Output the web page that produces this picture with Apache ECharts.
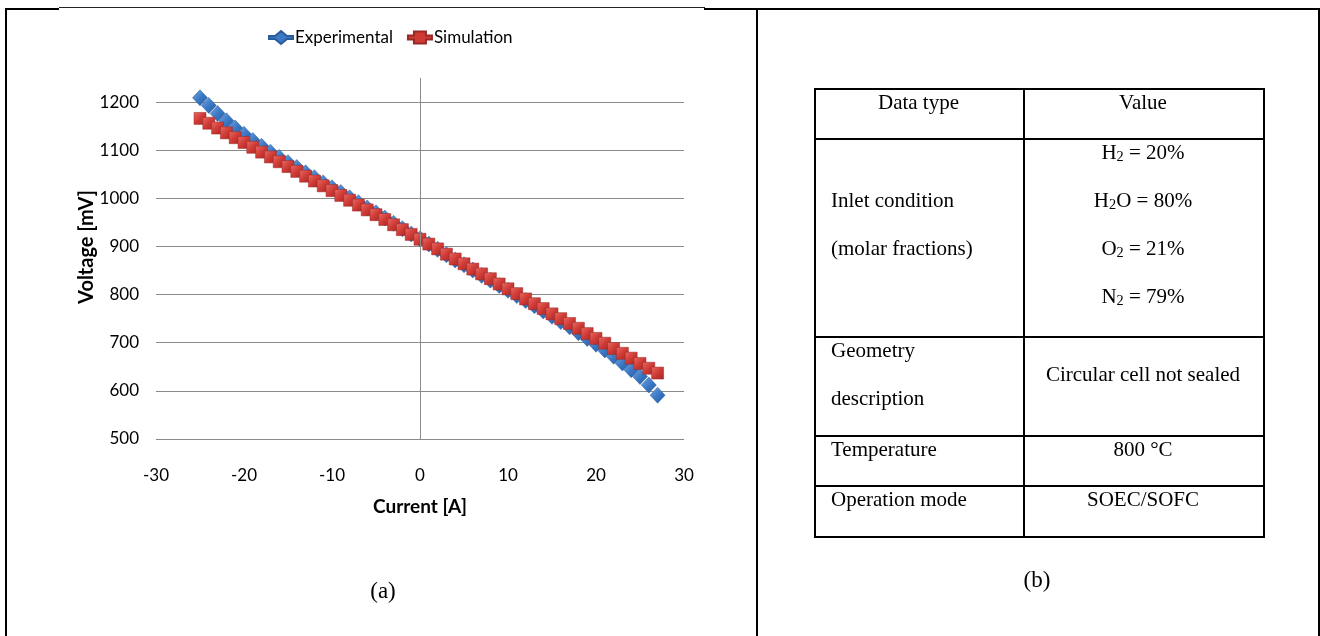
<!DOCTYPE html>
<html>
<head>
<meta charset="utf-8">
<script src="https://cdn.jsdelivr.net/npm/echarts@6/dist/echarts.min.js"></script>
<style>
  html, body { margin:0; padding:0; background:#fff; }
  #wrap { position:relative; width:1320px; height:636px; overflow:hidden; }
  #chart { position:absolute; left:0; top:0; width:1320px; height:636px; }
  .ln { position:absolute; background:#000; }
  .t { position:absolute; font-family:"Liberation Serif","Times New Roman",serif; font-size:21px; color:#000; white-space:nowrap; line-height:24px; }
  .t sub { font-size:0.68em; vertical-align:-0.12em; line-height:0; }
  .c { transform:translateX(-50%); }
</style>
</head>
<body>
<div id="wrap">
  <div id="chart"></div>
  <div id="overlay"></div>
</div>
<script>
// ---- data ----
const currents = [-25,-24,-23,-22,-21,-20,-19,-18,-17,-16,-15,-14,-13,-12,-11,-10,-9,-8,-7,-6,-5,-4,-3,-2,-1,0,1,2,3,4,5,6,7,8,9,10,11,12,13,14,15,16,17,18,19,20,21,22,23,24,25,26,27];
const experimental = [1209,1193,1176,1161,1146,1133,1120,1108,1096,1085,1074,1064,1053,1043,1032,1022,1012,1001,991,980,970,959,948,937,926,916,905,894,883,872,862,851,840,830,819,809,798,788,777,766,755,744,733,721,709,697,685,672,658,644,630,612,591];
const simulation = [1166,1156,1146,1136,1126,1116,1106,1096,1086,1076,1066,1056,1046,1036,1026,1016,1006,996,986,976,966,956,945,935,925,915,905,895,884,874,864,853,843,833,822,812,802,791,781,771,760,750,740,730,719,709,699,688,678,668,657,647,637];
const seriesNames = ["Experimental", "Simulation"];
const xTicks = [-30, -20, -10, 0, 10, 20, 30];
const yTicks = [500, 600, 700, 800, 900, 1000, 1100, 1200];
const xTitle = "Current [A]";
const yTitle = "Voltage [mV]";
const tableHeader = ["Data type", "Value"];
const tableRows = [
  ["Inlet condition|(molar fractions)", "H<sub>2</sub> = 20%|H<sub>2</sub>O = 80%|O<sub>2</sub> = 21%|N<sub>2</sub> = 79%"],
  ["Geometry|description", "Circular cell not sealed"],
  ["Temperature", "800 °C"],
  ["Operation mode", "SOEC/SOFC"]
];
const captions = ["(a)", "(b)"];

// ---- chart ----
const FONT = "Lato,'Open Sans',sans-serif";
const chart = echarts.init(document.getElementById('chart'), null, {renderer:'canvas'});
const blueFill = new echarts.graphic.LinearGradient(0,0,1,1,[{offset:0,color:'#78a8e4'},{offset:0.5,color:'#3c7ac6'},{offset:1,color:'#22569a'}]);
const redFill = new echarts.graphic.LinearGradient(0,0,1,1,[{offset:0,color:'#ea6a64'},{offset:0.5,color:'#cf3a35'},{offset:1,color:'#a02724'}]);
const gridColor = '#8a8a8a';

chart.setOption({
  animation:false,
  textStyle:{fontFamily:FONT},
  legend:{
    left:263, top:24, itemWidth:24, itemHeight:14, itemGap:14,
    textStyle:{fontSize:17, color:'#000', fontFamily:FONT, padding:[0,0,0,-3]},
    data:[
      {name:seriesNames[0], icon:'path://M0,5 L6,5 L12,0 L18,5 L24,5 L24,8 L18,8 L12,13 L6,8 L0,8 Z', itemStyle:{color:'#3c7ac6'}},
      {name:seriesNames[1], icon:'path://M0,4 L6,4 L6,0 L18,0 L18,4 L24,4 L24,8 L18,8 L18,12 L6,12 L6,8 L0,8 Z', itemStyle:{color:'#cf3a35'}}
    ]
  },
  grid:{left:156, right:636, top:78, bottom:197, containLabel:false},
  xAxis:{
    type:'value', min:xTicks[0], max:xTicks[xTicks.length-1], interval:10,
    axisLine:{show:false}, axisTick:{show:false}, splitLine:{show:false},
    axisLabel:{margin:28, fontSize:17, color:'#000', fontFamily:FONT}
  },
  yAxis:{
    type:'value', min:yTicks[0], max:1250, interval:100,
    axisLine:{show:false}, axisTick:{show:false},
    splitLine:{show:true, showMaxLine:false, lineStyle:{color:gridColor, width:1}},
    axisLabel:{margin:17, fontSize:17, color:'#000', fontFamily:FONT, showMaxLabel:false,
      formatter:v => yTicks.indexOf(v) >= 0 ? String(v) : ''}
  },
  graphic:[
    {type:'text', x:420, y:507, style:{text:xTitle, font:"bold 19px "+FONT, fill:'#000', align:'center', verticalAlign:'middle'}},
    {type:'text', x:87, y:247, rotation:Math.PI/2, style:{text:yTitle, font:"bold 20px "+FONT, fill:'#000', align:'center', verticalAlign:'middle'}}
  ],
  series:[
    {
      name:seriesNames[0], type:'scatter', symbol:'diamond', symbolSize:[15,16],
      itemStyle:{color:blueFill, borderColor:'#2b5c9a', borderWidth:0.5, opacity:1},
      data:currents.map((c,i)=>[c, experimental[i]]),
      markLine:{silent:true, symbol:['none','none'], label:{show:false},
        lineStyle:{color:gridColor, width:1, type:'solid'}, data:[{xAxis:0}]}
    },
    {
      name:seriesNames[1], type:'scatter', symbol:'rect', symbolSize:[12,12],
      itemStyle:{color:redFill, borderColor:'#9a2826', borderWidth:0.5, opacity:1},
      data:currents.map((c,i)=>[c, simulation[i]])
    }
  ]
});

// ---- frame and table (real text) ----
const ov = document.getElementById('overlay');
function line(x,y,w,h,color){ const d=document.createElement('div'); d.className='ln'; d.style.left=x+'px'; d.style.top=y+'px'; d.style.width=w+'px'; d.style.height=h+'px'; if(color) d.style.background=color; ov.appendChild(d); }
function text(html,x,y,center,size){ const d=document.createElement('div'); d.className='t'+(center?' c':''); d.innerHTML=html; d.style.left=x+'px'; d.style.top=(y-12)+'px'; if(size) d.style.fontSize=size+'px'; ov.appendChild(d); }
// outer frame
line(5,8,2,628);
line(5,8,54,2);
line(59,7,646,1,'#222');
line(704,8,616,2);
line(756,8,2,628);
line(1318,8,2,628);
// table geometry
const tL=814, tR=1263, tM=1023;
const rowY=[89,139,337,436,486,537];
rowY.forEach(y=>line(tL,y-1,tR-tL+2,2));
line(tL,88,2,rowY[5]-88+1);
line(tM,88,2,rowY[5]-88+1);
line(tR,88,2,rowY[5]-88+1);
const c1=(tL+tM)/2, c2=(tM+tR)/2;
text(tableHeader[0], c1, 102, true);
text(tableHeader[1], c2, 102, true);
// row 2
const r2a = tableRows[0][0].split('|'), r2b = tableRows[0][1].split('|');
text(r2a[0], 831, 200, false); text(r2a[1], 831, 248, false);
r2b.forEach((s,i)=>text(s, c2, 152+i*48, true));
// row 3
const r3a = tableRows[1][0].split('|');
text(r3a[0], 831, 350, false); text(r3a[1], 831, 398, false);
text(tableRows[1][1], c2, 374, true);
// row 4, 5
text(tableRows[2][0], 831, 449, false); text(tableRows[2][1], c2, 449, true);
text(tableRows[3][0], 831, 499, false); text(tableRows[3][1], c2, 499, true);
// captions
text(captions[0], 383, 591, true, 23);
text(captions[1], 1037, 580, true, 23);
</script>
</body>
</html>
